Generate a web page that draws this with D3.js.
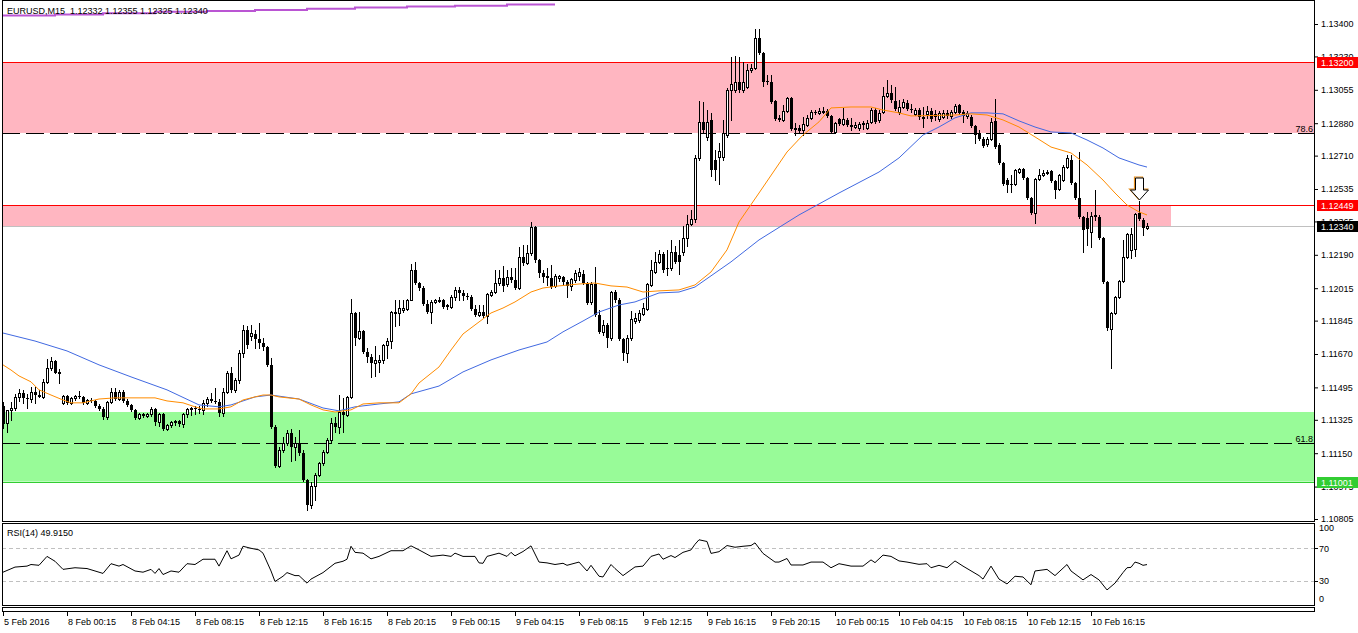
<!DOCTYPE html>
<html>
<head>
<meta charset="utf-8">
<title>EURUSD,M15</title>
<script src="https://d3js.org/d3.v7.min.js"></script>
<style>
  body { margin: 0; background: #fff; }
  svg { display: block; font-family: "Liberation Sans", Arial, sans-serif; font-size: 9px; }
  text { white-space: pre; }
</style>
</head>
<body>
<svg width="1358" height="633"></svg>
<script>
// EURUSD M15 candles, index 0 = 5 Feb 20:15 ... 286 = 10 Feb 19:45
const opens = [1.11398,1.11309,1.11377,1.11387,1.11445,1.11466,1.11440,1.11434,1.11471,1.11455,1.11445,1.11524,1.11597,1.11634,1.11576,1.11414,1.11450,1.11414,1.11440,1.11450,
1.11445,1.11414,1.11429,1.11424,1.11398,1.11382,1.11340,1.11419,1.11471,1.11434,1.11471,1.11424,1.11403,1.11377,1.11335,1.11356,1.11345,1.11356,1.11382,1.11314,
1.11356,1.11277,1.11298,1.11314,1.11319,1.11303,1.11356,1.11382,1.11387,1.11382,1.11377,1.11414,1.11434,1.11424,1.11419,1.11361,1.11471,1.11571,1.11482,1.11534,
1.11676,1.11796,1.11765,1.11775,1.11749,1.11728,1.11707,1.11613,1.11288,1.11083,1.11167,1.11204,1.11256,1.11183,1.11204,1.11151,1.11010,1.10879,1.10978,1.11036,
1.11099,1.11157,1.11220,1.11309,1.11288,1.11366,1.11351,1.11445,1.11885,1.11754,1.11791,1.11681,1.11655,1.11623,1.11628,1.11639,1.11717,1.11738,1.11885,1.11885,
1.11901,1.11906,1.11953,1.12111,1.12042,1.12016,1.11932,1.11890,1.11943,1.11948,1.11953,1.11927,1.11917,1.11969,1.12006,1.11990,1.11974,1.11969,1.11906,1.11875,
1.11890,1.11869,1.11980,1.11995,1.12042,1.12069,1.12037,1.12074,1.12058,1.12016,1.12179,1.12147,1.12200,1.12336,1.12163,1.12095,1.12079,1.12069,1.12027,1.12069,
1.12074,1.12048,1.12027,1.12058,1.12079,1.12090,1.12042,1.11943,1.12037,1.11875,1.11786,1.11822,1.11754,1.11995,1.11953,1.11749,1.11676,1.11754,1.11843,1.11849,
1.11880,1.11906,1.12032,1.12100,1.12153,1.12195,1.12121,1.12121,1.12205,1.12189,1.12205,1.12278,1.12352,1.12378,1.12698,1.12887,1.12808,1.12897,1.12687,1.12703,
1.12703,1.12818,1.13054,1.13054,1.13096,1.13054,1.13070,1.13159,1.13170,1.13327,1.13248,1.13101,1.13096,1.12997,1.12908,1.12897,1.12944,1.13012,1.12855,1.12855,
1.12845,1.12871,1.12908,1.12939,1.12934,1.12939,1.12944,1.12918,1.12834,1.12902,1.12876,1.12897,1.12871,1.12860,1.12855,1.12881,1.12855,1.12887,1.12949,1.12897,
1.12939,1.13023,1.13039,1.12997,1.12939,1.12965,1.12986,1.12955,1.12929,1.12949,1.12913,1.12929,1.12944,1.12929,1.12902,1.12913,1.12934,1.12918,1.12939,1.12976,
1.12939,1.12918,1.12913,1.12866,1.12829,1.12797,1.12771,1.12797,1.12892,1.12766,1.12671,1.12582,1.12562,1.12562,1.12624,1.12640,1.12593,1.12488,1.12409,1.12588,
1.12609,1.12619,1.12630,1.12577,1.12535,1.12582,1.12650,1.12687,1.12567,1.12488,1.12388,1.12383,1.12310,1.12399,1.12388,1.12278,1.12048,1.11801,1.11885,1.11969,
1.12053,1.12179,1.12216,1.12221,1.12409,1.12373,1.12332];
const highs = [1.11419,1.11377,1.11419,1.11461,1.11487,1.11482,1.11461,1.11497,1.11497,1.11482,1.11539,1.11644,1.11655,1.11639,1.11592,1.11455,1.11455,1.11445,1.11455,1.11476,
1.11450,1.11434,1.11440,1.11429,1.11408,1.11393,1.11424,1.11492,1.11492,1.11482,1.11482,1.11434,1.11408,1.11382,1.11361,1.11361,1.11361,1.11393,1.11387,1.11361,
1.11361,1.11303,1.11319,1.11324,1.11324,1.11361,1.11387,1.11393,1.11398,1.11398,1.11429,1.11445,1.11466,1.11492,1.11434,1.11492,1.11581,1.11602,1.11544,1.11691,
1.11822,1.11817,1.11822,1.11796,1.11833,1.11754,1.11712,1.11649,1.11298,1.11183,1.11235,1.11272,1.11277,1.11235,1.11272,1.11167,1.11015,1.10999,1.11047,1.11104,
1.11167,1.11230,1.11335,1.11340,1.11455,1.11440,1.11450,1.11959,1.11890,1.11890,1.11796,1.11702,1.11670,1.11712,1.11665,1.11723,1.11754,1.11896,1.11953,1.11953,
1.11953,1.11959,1.12142,1.12153,1.12048,1.12027,1.11953,1.11953,1.11959,1.11969,1.11959,1.11932,1.11980,1.12021,1.12021,1.12006,1.11990,1.11980,1.11927,1.11927,
1.11927,1.11990,1.12006,1.12111,1.12111,1.12132,1.12111,1.12121,1.12121,1.12231,1.12242,1.12242,1.12362,1.12341,1.12168,1.12111,1.12121,1.12137,1.12090,1.12084,
1.12079,1.12058,1.12069,1.12111,1.12121,1.12111,1.12048,1.12048,1.12126,1.11901,1.11849,1.11833,1.12001,1.12006,1.11964,1.11754,1.11770,1.11896,1.11885,1.11901,
1.11938,1.12042,1.12163,1.12205,1.12216,1.12205,1.12216,1.12268,1.12236,1.12268,1.12341,1.12399,1.12425,1.12713,1.12997,1.12991,1.12949,1.12934,1.12740,1.12776,
1.12897,1.13065,1.13227,1.13232,1.13227,1.13201,1.13191,1.13191,1.13374,1.13374,1.13253,1.13133,1.13133,1.13002,1.12923,1.12976,1.13018,1.13018,1.12881,1.12871,
1.12913,1.12923,1.12949,1.12949,1.12960,1.12965,1.12955,1.12923,1.12887,1.12908,1.12960,1.12908,1.12908,1.12887,1.12887,1.12892,1.12897,1.12960,1.12960,1.12949,
1.13070,1.13107,1.13080,1.13070,1.13002,1.13007,1.13002,1.12981,1.12960,1.12960,1.12965,1.12970,1.12960,1.12949,1.12944,1.12949,1.12949,1.12949,1.12981,1.12981,
1.12949,1.12944,1.12923,1.12871,1.12845,1.12808,1.12808,1.12908,1.13007,1.12776,1.12677,1.12593,1.12609,1.12640,1.12645,1.12645,1.12598,1.12493,1.12593,1.12640,
1.12635,1.12635,1.12635,1.12582,1.12614,1.12661,1.12713,1.12713,1.12572,1.12729,1.12394,1.12415,1.12415,1.12530,1.12399,1.12284,1.12053,1.11890,1.11974,1.12058,
1.12268,1.12305,1.12331,1.12409,1.12472,1.12383,1.12355];
const lows = [1.11282,1.11262,1.11324,1.11377,1.11424,1.11414,1.11387,1.11419,1.11414,1.11445,1.11440,1.11518,1.11586,1.11571,1.11518,1.11408,1.11408,1.11408,1.11429,1.11440,
1.11408,1.11408,1.11419,1.11393,1.11377,1.11330,1.11330,1.11414,1.11429,1.11429,1.11419,1.11398,1.11372,1.11330,1.11330,1.11340,1.11340,1.11345,1.11298,1.11293,
1.11272,1.11272,1.11288,1.11298,1.11293,1.11288,1.11340,1.11351,1.11356,1.11361,1.11356,1.11398,1.11419,1.11414,1.11345,1.11345,1.11466,1.11471,1.11471,1.11518,
1.11655,1.11702,1.11744,1.11702,1.11702,1.11691,1.11607,1.11282,1.11078,1.11078,1.11157,1.11193,1.11109,1.11115,1.11141,1.11005,1.10853,1.10863,1.10905,1.11031,
1.11088,1.11151,1.11209,1.11262,1.11256,1.11262,1.11345,1.11440,1.11717,1.11749,1.11676,1.11628,1.11550,1.11555,1.11576,1.11623,1.11649,1.11702,1.11817,1.11822,
1.11890,1.11901,1.11953,1.12037,1.12006,1.11927,1.11885,1.11833,1.11938,1.11943,1.11911,1.11906,1.11911,1.11953,1.11953,1.11953,1.11959,1.11901,1.11869,1.11869,
1.11864,1.11833,1.11974,1.11990,1.12032,1.12001,1.12027,1.12048,1.12011,1.12011,1.12137,1.12142,1.12189,1.12153,1.12074,1.12048,1.12032,1.12016,1.12021,1.12053,
1.12032,1.11969,1.12006,1.12048,1.12058,1.12037,1.11932,1.11932,1.11869,1.11780,1.11770,1.11707,1.11744,1.11943,1.11744,1.11639,1.11628,1.11744,1.11833,1.11838,
1.11875,1.11901,1.12027,1.12095,1.12147,1.12100,1.12084,1.12111,1.12147,1.12090,1.12189,1.12236,1.12346,1.12362,1.12687,1.12834,1.12792,1.12603,1.12582,1.12562,
1.12687,1.12808,1.12897,1.13044,1.13044,1.13044,1.13065,1.13149,1.13164,1.13243,1.13075,1.13086,1.12986,1.12897,1.12892,1.12892,1.12939,1.12845,1.12818,1.12834,
1.12818,1.12866,1.12902,1.12929,1.12929,1.12934,1.12913,1.12829,1.12829,1.12871,1.12871,1.12866,1.12845,1.12855,1.12845,1.12850,1.12850,1.12881,1.12881,1.12887,
1.12934,1.13018,1.12991,1.12949,1.12929,1.12960,1.12949,1.12939,1.12923,1.12902,1.12860,1.12908,1.12892,1.12897,1.12892,1.12908,1.12908,1.12908,1.12934,1.12929,
1.12887,1.12908,1.12860,1.12776,1.12792,1.12755,1.12761,1.12792,1.12750,1.12666,1.12556,1.12519,1.12519,1.12556,1.12619,1.12588,1.12483,1.12404,1.12357,1.12582,
1.12603,1.12614,1.12572,1.12488,1.12530,1.12577,1.12645,1.12562,1.12483,1.12383,1.12205,1.12242,1.12231,1.12373,1.12273,1.12042,1.11796,1.11597,1.11880,1.11964,
1.12048,1.12174,1.12174,1.12184,1.12373,1.12294,1.12325];
const closes = [1.11303,1.11377,1.11387,1.11445,1.11466,1.11440,1.11434,1.11471,1.11455,1.11445,1.11524,1.11597,1.11634,1.11571,1.11565,1.11450,1.11414,1.11440,1.11450,1.11445,
1.11414,1.11429,1.11424,1.11398,1.11382,1.11340,1.11419,1.11471,1.11434,1.11471,1.11424,1.11403,1.11377,1.11335,1.11356,1.11345,1.11356,1.11382,1.11314,1.11356,
1.11277,1.11298,1.11314,1.11319,1.11303,1.11356,1.11382,1.11387,1.11382,1.11377,1.11414,1.11434,1.11424,1.11419,1.11361,1.11471,1.11571,1.11482,1.11534,1.11676,
1.11796,1.11717,1.11780,1.11749,1.11728,1.11707,1.11613,1.11288,1.11083,1.11167,1.11204,1.11256,1.11183,1.11204,1.11151,1.11010,1.10879,1.10978,1.11036,1.11099,
1.11157,1.11220,1.11309,1.11288,1.11366,1.11351,1.11445,1.11885,1.11754,1.11791,1.11681,1.11655,1.11623,1.11639,1.11639,1.11717,1.11738,1.11890,1.11890,1.11911,
1.11911,1.11953,1.12111,1.12042,1.12016,1.11932,1.11890,1.11943,1.11953,1.11953,1.11917,1.11917,1.11969,1.12006,1.11990,1.11974,1.11969,1.11906,1.11875,1.11890,
1.11869,1.11985,1.11995,1.12042,1.12069,1.12027,1.12074,1.12058,1.12016,1.12179,1.12147,1.12200,1.12336,1.12163,1.12095,1.12074,1.12069,1.12021,1.12079,1.12079,
1.12048,1.12027,1.12063,1.12095,1.12100,1.12042,1.11938,1.12037,1.11875,1.11786,1.11822,1.11754,1.11995,1.11953,1.11749,1.11676,1.11754,1.11854,1.11859,1.11885,
1.11911,1.12037,1.12111,1.12153,1.12195,1.12111,1.12116,1.12205,1.12153,1.12153,1.12278,1.12352,1.12378,1.12698,1.12887,1.12845,1.12887,1.12635,1.12635,1.12734,
1.12829,1.13054,1.13086,1.13096,1.13054,1.13096,1.13159,1.13170,1.13327,1.13248,1.13096,1.13096,1.12991,1.12902,1.12897,1.12944,1.13012,1.12850,1.12845,1.12839,
1.12876,1.12908,1.12939,1.12936,1.12944,1.12944,1.12918,1.12834,1.12881,1.12876,1.12902,1.12871,1.12860,1.12871,1.12876,1.12871,1.12881,1.12949,1.12887,1.12934,
1.13023,1.13039,1.13002,1.12955,1.12965,1.12991,1.12955,1.12949,1.12949,1.12913,1.12902,1.12944,1.12902,1.12913,1.12934,1.12934,1.12918,1.12939,1.12970,1.12934,
1.12918,1.12934,1.12866,1.12818,1.12797,1.12761,1.12797,1.12887,1.12755,1.12671,1.12562,1.12556,1.12556,1.12635,1.12640,1.12593,1.12488,1.12409,1.12588,1.12609,
1.12619,1.12624,1.12577,1.12530,1.12609,1.12650,1.12698,1.12567,1.12488,1.12388,1.12320,1.12325,1.12394,1.12388,1.12278,1.12048,1.11807,1.11885,1.11969,1.12053,
1.12179,1.12299,1.12299,1.12404,1.12378,1.12331,1.12340];

// moving averages: [candle index, price]
const maFast = [[0,1.11613],[2,1.11586],[4,1.11555],[7,1.11524],[9,1.11482],[12,1.11455],[15,1.11429],[17,1.11414],[20,1.11414],[24,1.11434],[28,1.11440],[32,1.11440],
[38,1.11440],[41,1.11424],[45,1.11414],[48,1.11393],[50,1.11382],[54,1.11382],[57,1.11393],[60,1.11429],[63,1.11445],[65,1.11455],[67,1.11455],[69,1.11445],[74,1.11434],
[77,1.11403],[80,1.11377],[83,1.11366],[87,1.11377],[90,1.11408],[94,1.11414],[99,1.11414],[102,1.11461],[104,1.11518],[109,1.11602],[112,1.11691],[115,1.11775],
[119,1.11838],[122,1.11885],[125,1.11911],[128,1.11943],[132,1.11995],[135,1.12016],[139,1.12027],[144,1.12037],[148,1.12042],[152,1.12027],[156,1.12021],[160,1.11995],
[164,1.12001],[169,1.12006],[173,1.12032],[177,1.12100],[181,1.12216],[184,1.12362],[189,1.12514],[196,1.12729],[200,1.12818],[204,1.12887],[207,1.12960],[212,1.12965],
[217,1.12965],[220,1.12949],[224,1.12934],[227,1.12918],[238,1.12923],[242,1.12929],[246,1.12923],[250,1.12897],[254,1.12860],[258,1.12808],[262,1.12755],[267,1.12724],
[271,1.12661],[275,1.12582],[278,1.12514],[281,1.12451],[284,1.12415],[286,1.12399]];
const maSlow = [[0,1.11780],[8,1.11738],[16,1.11686],[24,1.11613],[32,1.11550],[41,1.11482],[49,1.11403],[54,1.11393],[57,1.11403],[63,1.11445],[67,1.11455],[74,1.11434],
[80,1.11387],[84,1.11372],[88,1.11393],[94,1.11408],[99,1.11419],[102,1.11461],[109,1.11502],[115,1.11576],[122,1.11639],[129,1.11691],[136,1.11733],[140,1.11786],
[145,1.11843],[149,1.11890],[154,1.11927],[158,1.11943],[164,1.11990],[169,1.11995],[173,1.12021],[182,1.12153],[189,1.12268],[199,1.12399],[209,1.12514],[219,1.12624],
[224,1.12698],[230,1.12818],[234,1.12860],[238,1.12908],[242,1.12934],[246,1.12934],[250,1.12929],[254,1.12892],[258,1.12860],[262,1.12834],[267,1.12829],[271,1.12792],
[275,1.12750],[279,1.12698],[284,1.12661],[286,1.12650]];
const maHigher = [[0,1.13444],[13,1.13450],[25,1.13456],[38,1.13464],[51,1.13468],[63,1.13474],[76,1.13480],[88,1.13486],[101,1.13492],[113,1.13496],[126,1.13502],[138,1.13502]];

const rsiPoints = [[0,40.5],[3,46.8],[6,48],[7,50],[9,49],[11,60],[13,54],[15,44],[18,46],[21,45],[23,42],[25,39],[27,51],[29,48],[30,50],[33,42],[35,40.5],[37,44],
[38,39],[39,45],[40,37.6],[42,42],[44,40.5],[46,51],[48,50],[50,56.5],[53,56.5],[54,48],[56,67],[57,57],[59,61.6],[60,72.5],[62,70],[64,68],[65,64],[67,42],[68,29],
[70,35.5],[71,40],[73,36.3],[74,36.3],[76,27],[77,32],[80,40],[83,51.5],[85,54],[86,56.5],[87,72.5],[88,65],[90,64],[92,57],[94,60],[97,67],[100,67],[102,73],[104,68],
[107,60],[110,61.6],[112,60],[113,64],[115,60],[118,60],[119,52],[120,51.5],[121,60],[124,64],[126,60],[127,65],[128,60.7],[130,66],[132,73],[134,53],[136,52],
[138,50],[140,51.5],[141,49],[144,53],[146,42],[147,49],[149,35.5],[150,34.6],[152,50],[153,45],[155,36.3],[158,47],[160,48],[162,60],[164,63],[165,56.5],[167,61],
[168,58.6],[170,65],[172,68],[173,75],[174,80.5],[176,78.4],[177,63.7],[179,65.8],[181,73.4],[183,71.3],[185,72.5],[187,73.4],[188,76.7],[190,63.7],[193,53],[194,53],
[196,57.4],[197,49.4],[200,49.4],[202,53],[205,53],[207,46],[209,51],[212,48],[215,48],[217,55.7],[218,52.3],[220,61.6],[222,60],[224,54.4],[226,53],[229,50.2],
[231,51],[232,46],[234,49],[236,46],[238,54.4],[240,48],[244,36.3],[245,32],[247,48],[249,32],[251,26],[253,35.5],[255,34.6],[257,25],[258,42],[261,44],[263,36.3],
[266,50],[267,42],[270,31],[272,37.6],[274,31],[276,18.6],[278,27],[280,40],[281,46],[282,46.5],[283,53],[284,51.5],[285,49],[286,49.915]];

const priceTicks = [1.13400,1.13230,1.13055,1.12880,1.12710,1.12535,1.12365,1.12190,1.12015,1.11845,1.11670,1.11495,1.11325,1.11150,1.10975,1.10805];
const timeLabels = ["5 Feb 2016","8 Feb 00:15","8 Feb 04:15","8 Feb 08:15","8 Feb 12:15","8 Feb 16:15","8 Feb 20:15","9 Feb 00:15","9 Feb 04:15",
  "9 Feb 08:15","9 Feb 12:15","9 Feb 16:15","9 Feb 20:15","10 Feb 00:15","10 Feb 04:15","10 Feb 08:15","10 Feb 12:15","10 Feb 16:15"];
const timeLabelIdx = [0,16,32,48,64,80,96,112,128,144,160,176,192,208,224,240,256,272];

// drawn objects
const resistTop = [1.13200, 1.12829];
const resistLow = [1.12449, 1.12340];
const resistLowEnd = 292;
const supportZone = [1.11366, 1.11001];
const fibLevels = ["78.6", "61.8"];
const fibPrices = [1.12829, 1.11203];
const priceTags = [[1.13200, "#ff0000"], [1.12449, "#ff0000"], [1.12340, "#000000"], [1.11001, "#32cd32"]];
const arrowAt = [284, 1.12478];
const header = "EURUSD,M15  1.12332 1.12355 1.12325 1.12340";
const rsiTitle = "RSI(14) 49.9150";

const W = 1358, H = 633;
const paneL = 2, paneR = 1315, mainT = 1, mainB = 521, rsiT = 524, rsiB = 606;

const svg = d3.select("svg");
svg.append("rect").attr("width", W).attr("height", H).attr("fill", "#fff");

const x = d3.scaleLinear().domain([0, 286]).range([3, 1147]);
const y = d3.scaleLinear().domain([1.10805, 1.13400]).range([519, 24]);
const yr = d3.scaleLinear().domain([0, 100]).range([605, 524]);
const px = i => Math.round(x(i)) + 0.5;
const py = v => Math.round(y(v)) + 0.5;

svg.append("defs").append("clipPath").attr("id", "mainClip")
   .append("rect").attr("x", paneL).attr("y", mainT).attr("width", paneR - paneL).attr("height", mainB - mainT);
const main = svg.append("g").attr("clip-path", "url(#mainClip)");

// zones
main.append("rect").attr("x", paneL).attr("width", paneR - paneL)
    .attr("y", y(resistTop[0])).attr("height", y(resistTop[1]) - y(resistTop[0])).attr("fill", "#ffb6c1");
main.append("rect").attr("x", paneL).attr("width", x(resistLowEnd) - paneL)
    .attr("y", y(resistLow[0])).attr("height", y(resistLow[1]) - y(resistLow[0])).attr("fill", "#ffb6c1");
main.append("rect").attr("x", paneL).attr("width", paneR - paneL)
    .attr("y", y(supportZone[0])).attr("height", y(supportZone[1]) - y(supportZone[0])).attr("fill", "#98fb98");

const hline = (p, color, dash) => main.append("line")
    .attr("x1", paneL).attr("x2", paneR).attr("y1", py(p)).attr("y2", py(p))
    .attr("stroke", color).attr("stroke-width", 1).attr("stroke-dasharray", dash || null);

hline(resistTop[0], "#ff0000");
hline(resistLow[0], "#ff0000");
hline(resistLow[1], "#c0c0c0");
hline(supportZone[1], "#32cd32");
fibPrices.forEach(p => hline(p, "#000", "18,6"));

main.selectAll(".fib").data(fibLevels).enter().append("text")
    .attr("x", paneR - 2).attr("y", (d, i) => py(fibPrices[i]) - 2)
    .attr("text-anchor", "end").attr("fill", "#000").text(d => d);

// higher timeframe average (step line)
main.append("path").datum(maHigher)
    .attr("d", d3.line().curve(d3.curveStepAfter).x(d => x(d[0])).y(d => y(d[1])))
    .attr("fill", "none").attr("stroke", "#ba55d3").attr("stroke-width", 2);

// candles
const candles = d3.range(opens.length).map(i => ({ i, o: opens[i], h: highs[i], l: lows[i], c: closes[i] }));
const cg = main.append("g").attr("shape-rendering", "crispEdges");
cg.selectAll(".wick").data(candles).enter().append("line")
  .attr("x1", d => px(d.i)).attr("x2", d => px(d.i))
  .attr("y1", d => Math.round(y(d.h))).attr("y2", d => Math.round(y(d.l)) + 1)
  .attr("stroke", "#000");
cg.selectAll(".body").data(candles).enter().append("rect")
  .each(function (d) {
    const top = Math.round(y(Math.max(d.o, d.c)));
    const bot = Math.round(y(Math.min(d.o, d.c)));
    const s = d3.select(this);
    if (d.c > d.o) {
      s.attr("x", px(d.i) - 1).attr("width", 2).attr("y", top + 0.5).attr("height", Math.max(bot - top, 0))
       .attr("fill", "#fff").attr("stroke", "#000");
    } else {
      s.attr("x", px(d.i) - 1.5).attr("width", 3).attr("y", top).attr("height", Math.max(bot - top, 1))
       .attr("fill", "#000");
    }
  });

// moving averages
const maLine = d3.line().x(d => x(d[0])).y(d => y(d[1]));
main.append("path").datum(maSlow).attr("d", maLine).attr("fill", "none").attr("stroke", "#4169e1").attr("stroke-width", 1);
main.append("path").datum(maFast).attr("d", maLine).attr("fill", "none").attr("stroke", "#ff8c00").attr("stroke-width", 1);

// arrow
const arrowPath = "M0,0 L-9,-10 L-4,-10 L-4,-22 L4,-22 L4,-10 L9,-10 Z";
const ax = px(arrowAt[0]), ay = Math.round(y(arrowAt[1]));
main.append("path").attr("d", arrowPath).attr("transform", `translate(${ax - 1},${ay - 1})`)
    .attr("fill", "none").attr("stroke", "#e89020").attr("stroke-width", 1.2);
main.append("path").attr("d", arrowPath).attr("transform", `translate(${ax},${ay})`)
    .attr("fill", "#fff").attr("stroke", "#000").attr("stroke-width", 1);

main.append("text").attr("x", 7).attr("y", 14).attr("fill", "#000").text(header);

// RSI pane
const rsiG = svg.append("g");
[70, 30].forEach(v => rsiG.append("line").attr("x1", paneL).attr("x2", paneR)
    .attr("y1", Math.round(yr(v)) + 0.5).attr("y2", Math.round(yr(v)) + 0.5)
    .attr("stroke", "#c0c0c0").attr("stroke-dasharray", "4,3"));
rsiG.append("path").datum(rsiPoints)
    .attr("d", d3.line().x(d => x(d[0])).y(d => yr(d[1])))
    .attr("fill", "none").attr("stroke", "#000").attr("stroke-width", 1);
rsiG.append("text").attr("x", 7).attr("y", 536).attr("fill", "#000").text(rsiTitle);

// frames
const frames = svg.append("g").attr("fill", "none").attr("stroke", "#000").attr("shape-rendering", "crispEdges");
frames.append("rect").attr("x", paneL + 0.5).attr("y", mainT - 0.5).attr("width", paneR - paneL - 1).attr("height", mainB - mainT + 1);
frames.append("rect").attr("x", paneL + 0.5).attr("y", rsiT - 0.5).attr("width", paneR - paneL - 1).attr("height", rsiB - rsiT);
frames.append("rect").attr("x", paneL + 0.5).attr("y", 607.5).attr("width", paneR - paneL - 1).attr("height", 4);

// price axis
const yAxis = svg.append("g").attr("transform", `translate(${paneR - 1},0)`)
  .call(d3.axisRight(y).tickValues(priceTicks).tickSize(4).tickPadding(3).tickFormat(d3.format(".5f")));
yAxis.select(".domain").remove();
yAxis.selectAll("text").attr("font-size", 9).attr("font-family", "Liberation Sans, Arial, sans-serif").attr("fill", "#000");

// price tags
const tags = svg.append("g");
priceTags.forEach(([p, col]) => {
  const cy = Math.round(y(p));
  tags.append("rect").attr("x", 1317).attr("y", cy - 5).attr("width", 41).attr("height", 11).attr("fill", col);
  tags.append("text").attr("x", 1321).attr("y", cy + 3.5).attr("fill", "#fff").text(d3.format(".5f")(p));
});

// RSI axis
const rsiAxis = svg.append("g");
[70, 30].forEach(v => rsiAxis.append("line").attr("x1", paneR - 1).attr("x2", paneR + 3)
    .attr("y1", Math.round(yr(v)) + 0.5).attr("y2", Math.round(yr(v)) + 0.5).attr("stroke", "#000"));
[[100, 7], [70, 3.5], [30, 3.5], [0, -3]].forEach(([v, dy]) =>
  rsiAxis.append("text").attr("x", 1319).attr("y", yr(v) + dy).attr("fill", "#000").text(v));

// time axis
const tAxis = svg.append("g");
timeLabelIdx.forEach((idx, k) => {
  tAxis.append("line").attr("x1", px(idx)).attr("x2", px(idx)).attr("y1", 612).attr("y2", 616)
       .attr("stroke", "#000").attr("shape-rendering", "crispEdges");
  tAxis.append("text").attr("x", px(idx) + 0.5).attr("y", 625).attr("fill", "#000").text(timeLabels[k]);
});
</script>
</body>
</html>
